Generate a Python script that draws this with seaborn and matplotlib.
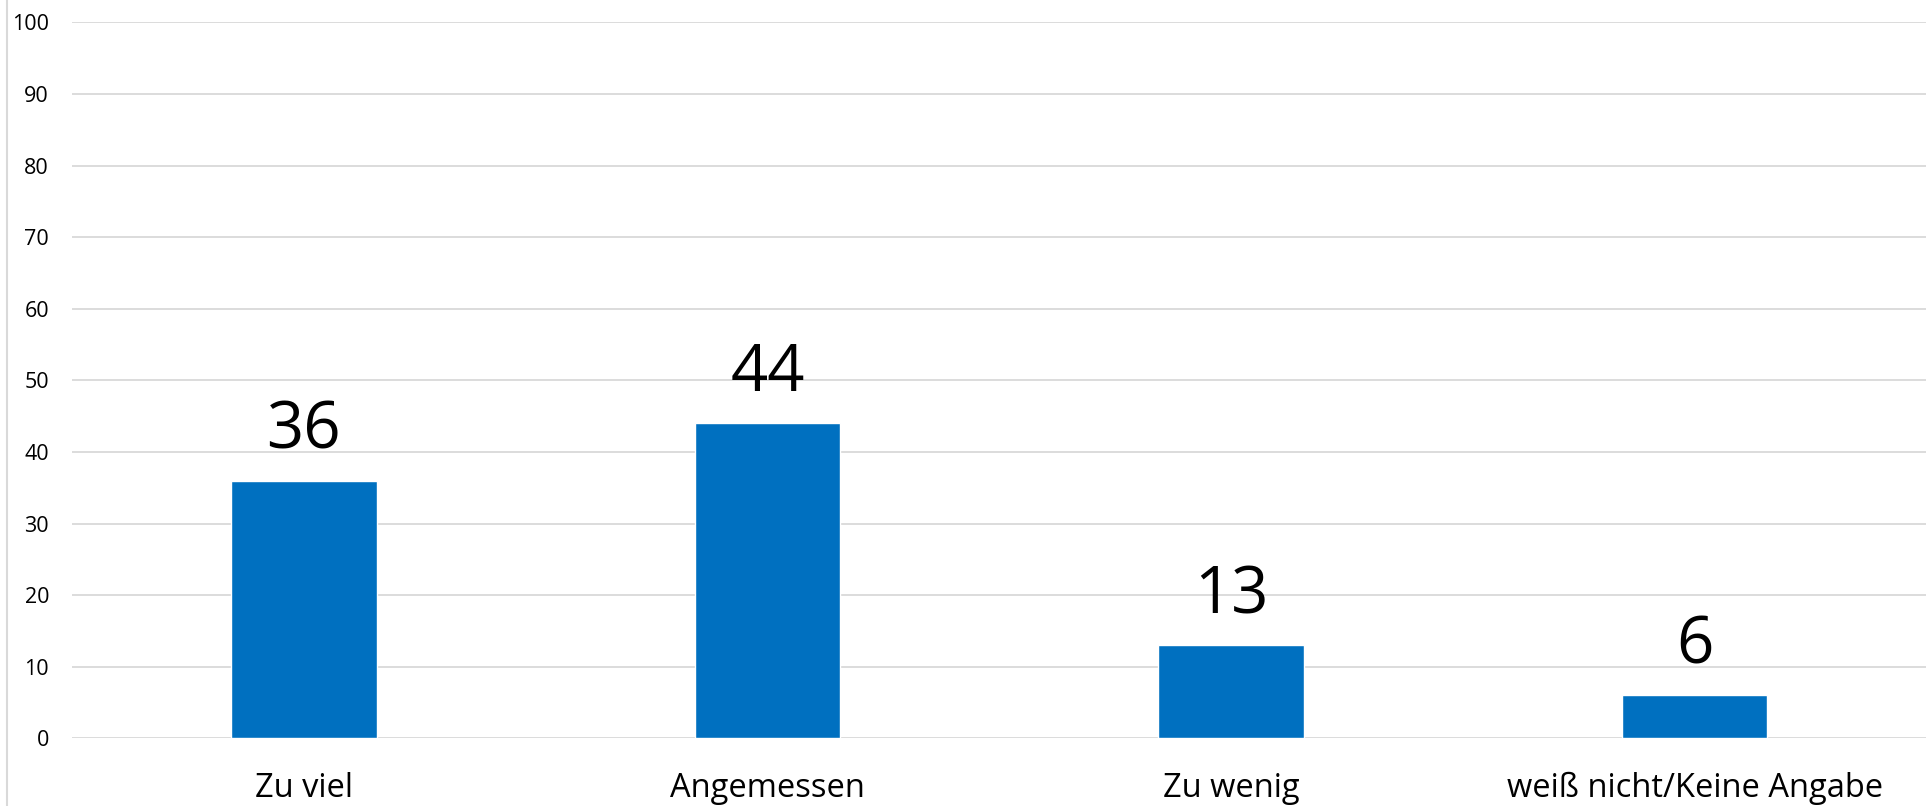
import matplotlib
matplotlib.use("Agg")
import matplotlib.pyplot as plt
from matplotlib.lines import Line2D
import seaborn as sns
import pandas as pd

categories = ["Zu viel", "Angemessen", "Zu wenig", "weiß nicht/Keine Angabe"]
values = [36, 44, 13, 6]
yticks = [0, 10, 20, 30, 40, 50, 60, 70, 80, 90, 100]

sns.set_theme(style="white")
plt.rcParams["font.family"] = ["Open Sans", "DejaVu Sans"]

W, H, DPI = 1930, 806, 100
fig = plt.figure(figsize=(W / DPI, H / DPI), dpi=DPI)
left, right = 72 / W, 1926.4 / W
bottom, top = (H - 738.3) / H, (H - 22.3) / H
ax = fig.add_axes([left, bottom, right - left, top - bottom])

df = pd.DataFrame({"cat": categories, "val": values})
sns.barplot(data=df, x="cat", y="val", color="#0070C0", saturation=1,
            width=0.314, ax=ax, zorder=3)

ax.set_xlim(-0.5, len(categories) - 0.5)
ax.set_ylim(0, 100)
ax.set_yticks(yticks)
ax.yaxis.grid(True, color="#D9D9D9", linewidth=1.3, zorder=0)
ax.set_axisbelow(True)
for s in ax.spines.values():
    s.set_visible(False)
ax.set_xlabel("")
ax.set_ylabel("")
ax.tick_params(axis="y", length=0, pad=16.5, labelsize=15.5, labelcolor="#000000")
ax.tick_params(axis="x", length=0, pad=24, labelsize=23.5, labelcolor="#000000")

for c in ax.containers:
    ax.bar_label(c, labels=[str(v) for v in values], padding=11.5,
                 fontsize=47, color="#000000")

fig.add_artist(Line2D([7.3 / W, 7.3 / W], [0, 1], color="#D9D9D9", linewidth=1.5))

fig.savefig("out.png", dpi=DPI, facecolor="white")
